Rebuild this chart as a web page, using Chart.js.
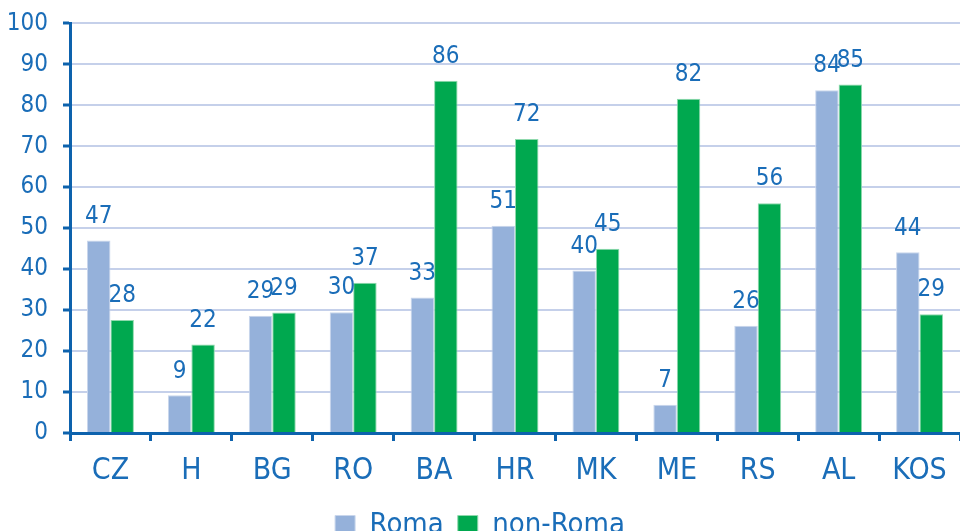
<!DOCTYPE html>
<html>
<head>
<meta charset="utf-8">
<script src="https://cdn.jsdelivr.net/npm/chart.js@4.4.1/dist/chart.umd.min.js"></script>
<style>
  html, body { margin: 0; padding: 0; background: #fff; overflow: hidden; }
  #wrap { position: relative; width: 960px; height: 556px; margin-top: -6px; }
</style>
</head>
<body>
<div id="wrap"><canvas id="myChart"></canvas></div>
<script>
const countries = ["CZ", "H", "BG", "RO", "BA", "HR", "MK", "ME", "RS", "AL", "KOS"];
const roma = [47.0, 9.2, 28.6, 29.5, 33.1, 50.6, 39.7, 6.9, 26.2, 83.7, 44.1];
const nonRoma = [27.6, 21.6, 29.4, 36.7, 86.0, 71.8, 45.0, 81.6, 56.1, 85.1, 29.0];
const yTicks = [0, 10, 20, 30, 40, 50, 60, 70, 80, 90, 100];

const axisBlue = "#0d62ad";
const textBlue = "#1a6db8";
const fontFam = "'DejaVu Sans Condensed', 'Liberation Sans Narrow', sans-serif";

// numbers above the bars
const valueLabels = {
	id: "valueLabels",
	afterDatasetsDraw(chart) {
		const c = chart.ctx;
		c.save();
		c.fillStyle = textBlue;
		c.font = "24px " + fontFam;
		c.textAlign = "center";
		c.textBaseline = "bottom";
		chart.data.datasets.forEach(function (ds, i) {
			chart.getDatasetMeta(i).data.forEach(function (bar, j) {
				c.fillText(Math.round(ds.data[j]), bar.x, bar.y - 12);
			});
		});
		c.restore();
	},
};

const ctx = document.getElementById("myChart");
new Chart(ctx, {
	type: "bar",
	data: {
		labels: countries,
		datasets: [
			{
				label: "Roma",
				data: roma,
				backgroundColor: "#95b1da",
				borderColor: "#c9d6ec",
				borderWidth: 1,
			},
			{
				label: "non-Roma",
				data: nonRoma,
				backgroundColor: "#00a84f",
				borderColor: "#8fd9ad",
				borderWidth: 1,
			},
		],
	},
	options: {
		responsive: true,
		maintainAspectRatio: false,
		animation: false,
		layout: { padding: { top: 8, right: 0, left: 0, bottom: 0 } },
		datasets: {
			bar: { barPercentage: 1, categoryPercentage: 0.58 },
		},
		plugins: {
			tooltip: { enabled: false },
			legend: {
				position: "bottom",
				labels: {
					color: textBlue,
					font: { family: fontFam, size: 29 },
					boxWidth: 20,
					boxHeight: 20,
					padding: 14,
				},
			},
		},
		scales: {
			x: {
				grid: {
					drawOnChartArea: false,
					tickColor: axisBlue,
					tickWidth: 3,
					tickLength: 8,
				},
				border: { color: axisBlue, width: 3 },
				ticks: {
					color: textBlue,
					font: { family: fontFam, size: 30 },
					padding: 12,
				},
				afterFit(scale) {
					scale.height = 64;
				},
			},
			y: {
				min: 0,
				max: 100,
				afterBuildTicks(scale) {
					scale.ticks = yTicks.map(function (v) {
						return { value: v };
					});
				},
				grid: {
					color: "#c5d0ea",
					lineWidth: 2,
					tickColor: axisBlue,
					tickWidth: 3,
					tickLength: 7,
				},
				border: { color: axisBlue, width: 3 },
				ticks: {
					color: textBlue,
					font: { family: fontFam, size: 24 },
					padding: 15,
				},
				afterFit(scale) {
					scale.width = 70;
				},
			},
		},
	},
	plugins: [valueLabels],
});
</script>
</body>
</html>
